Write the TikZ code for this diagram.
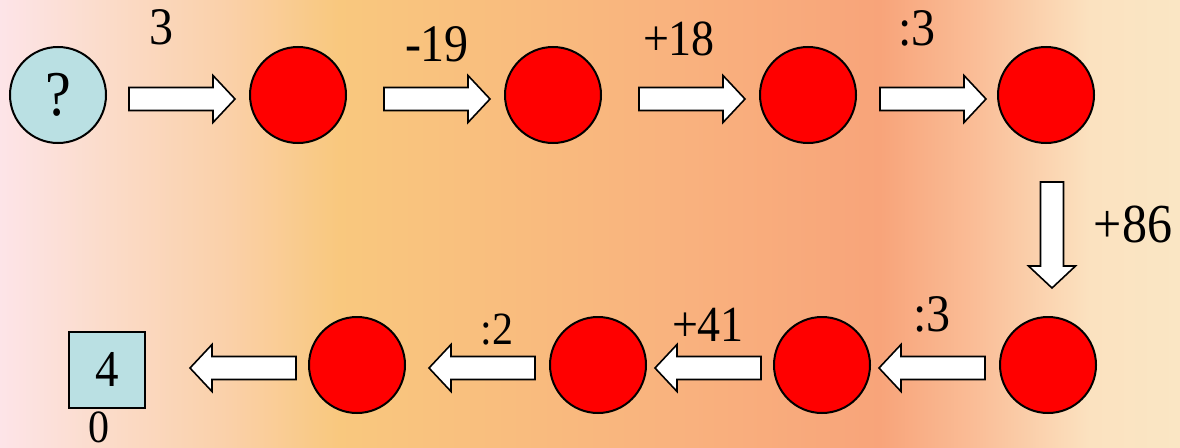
\documentclass[tikz,border=0pt]{standalone}
\usepackage{fontspec}
\setmainfont{Liberation Serif}
\newcommand{\tallnum}[2]{\scalebox{1}[1.1]{\fontsize{#1}{#1}\selectfont #2}}
\begin{document}
\begin{tikzpicture}[x=1pt,y=-1pt,
  ball/.style={circle,draw=black,line width=2pt,fill=red,minimum size=96pt,inner sep=0pt},
  qball/.style={circle,draw=black,line width=2pt,fill=qcol,minimum size=96pt,inner sep=0pt},
  lbl/.style={inner sep=0pt},
  blockarrow/.style={fill=white,draw=black,line width=1.6pt,line join=miter},
  rarrow/.pic={\path[blockarrow] (0,-11.5) -- (84,-11.5) -- (84,-23.5) -- (106,0) -- (84,23.5) -- (84,11.5) -- (0,11.5) -- cycle;}
]
\definecolor{bg0}{HTML}{FDE4E8}
\definecolor{bg1}{HTML}{FBDCCB}
\definecolor{bg2}{HTML}{FAD0A8}
\definecolor{bg3}{HTML}{F9C87E}
\definecolor{bg4}{HTML}{F9B27E}
\definecolor{bg5}{HTML}{F8A47A}
\definecolor{bg6}{HTML}{FABE98}
\definecolor{bg7}{HTML}{FBE2C0}
\definecolor{bg8}{HTML}{FAE6C4}
\definecolor{qcol}{HTML}{BAE0E3}
\useasboundingbox (0,0) rectangle (1180,447);
\shade[left color=bg0,right color=bg1] (0,0) rectangle (100.5,447);
\shade[left color=bg1,right color=bg2] (100,0) rectangle (230.5,447);
\shade[left color=bg2,right color=bg3] (230,0) rectangle (338.5,447);
\shade[left color=bg3,right color=bg4] (338,0) rectangle (677.5,447);
\shade[left color=bg4,right color=bg5] (677,0) rectangle (880.5,447);
\shade[left color=bg5,right color=bg6] (880,0) rectangle (978.5,447);
\shade[left color=bg6,right color=bg7] (978,0) rectangle (1090.5,447);
\shade[left color=bg7,right color=bg8] (1090,0) rectangle (1180,447);

% top row
\node[qball] (q) at (58,95) {\tallnum{58}{?}};
\node[ball] (t1) at (298,95) {};
\node[ball] (t2) at (553,95) {};
\node[ball] (t3) at (808,95) {};
\node[ball] (t4) at (1046,95) {};
% bottom row
\node[ball] (b1) at (1048,365) {};
\node[ball] (b2) at (822,365) {};
\node[ball] (b3) at (598,365) {};
\node[ball] (b4) at (357,365) {};
\node[draw=black,line width=2pt,fill=qcol,minimum size=76pt,inner sep=0pt] (res) at (107,369.5) {\tallnum{47}{4}};
\node[lbl] (zero) at (99,427) {\tallnum{42}{0}};

% arrows
\pic at (129,99) {rarrow};
\pic at (384,99) {rarrow};
\pic at (639,99) {rarrow};
\pic at (880,99) {rarrow};
\pic[rotate=-90] at (1052,182) {rarrow};
\pic[rotate=180] at (985,368) {rarrow};
\pic[rotate=180] at (761,368) {rarrow};
\pic[rotate=180] at (535,368) {rarrow};
\pic[rotate=180] at (296,368) {rarrow};

% labels
\node[lbl] (l1) at (161,27) {\tallnum{48}{3}};
\node[lbl] (l2) at (437,44) {\tallnum{48}{-19}};
\node[lbl] (l3) at (679,39) {\tallnum{46}{+18}};
\node[lbl] (l4) at (917,28) {\tallnum{48}{:3}};
\node[lbl] (l5) at (1133,224) {\tallnum{50}{+86}};
\node[lbl] (l6) at (932,314) {\tallnum{48}{:3}};
\node[lbl] (l7) at (708,325) {\tallnum{46}{+41}};
\node[lbl] (l8) at (497,330) {\tallnum{42}{:2}};
\end{tikzpicture}
\end{document}
